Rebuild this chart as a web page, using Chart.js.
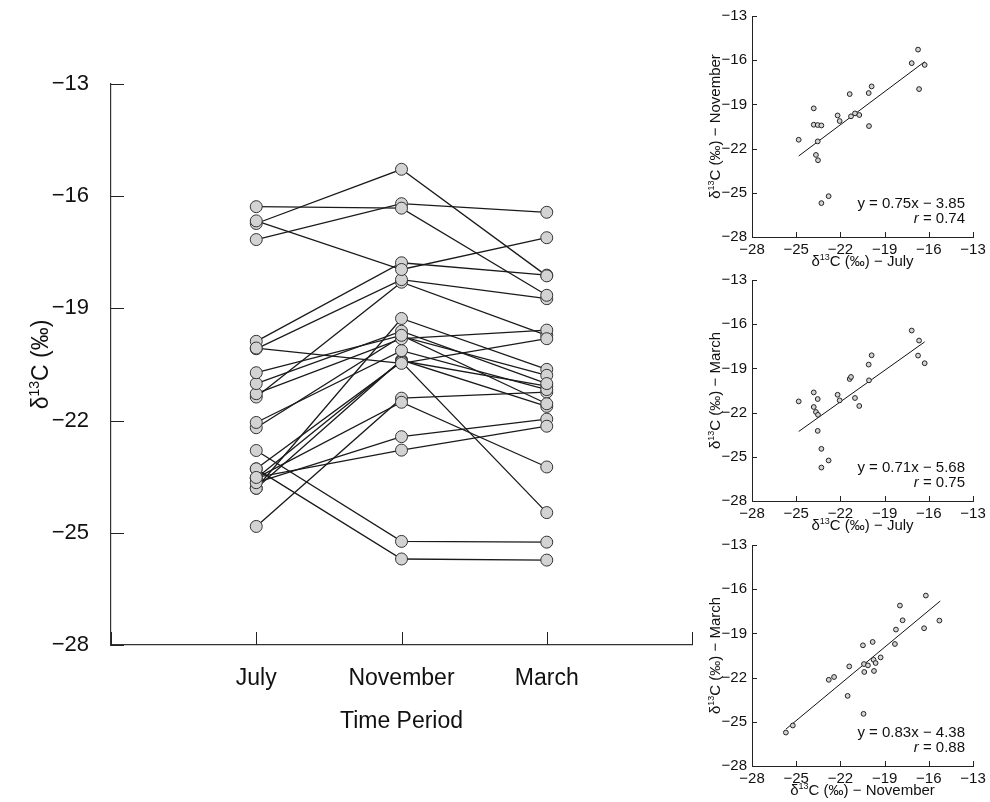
<!DOCTYPE html>
<html lang="en">
<head>
    <meta charset="UTF-8">
    <title>δ13C by time period</title>
    <script src="https://cdn.jsdelivr.net/npm/chart.js"></script>
    <style>
        body { margin: 0; background: #fff; }
        .wrap { position: relative; width: 990px; height: 802px; }
        canvas { position: absolute; }
    </style>
</head>
<body>
    <div class="wrap">
        <canvas id="mainChart" width="712" height="802" style="left:0;top:0"></canvas>
        <canvas id="julNov" width="300" height="272" style="left:690px;top:0"></canvas>
        <canvas id="julMar" width="300" height="272" style="left:690px;top:264px"></canvas>
        <canvas id="novMar" width="300" height="272" style="left:690px;top:529px"></canvas>
    </div>

    <script>
        // values (one entry per individual)
        const periods = ['July', 'November', 'March'];
        const julyVals  = [-24.83, -23.81, -23.81, -23.54, -23.54, -23.29, -23.29, -23.66, -23.52, -22.80, -22.19, -22.05, -21.37, -21.28, -21.01, -20.72, -20.08, -19.88, -20.06, -17.16, -16.73, -16.28, -16.66];
        const novVals   = [-21.40, -19.27, -20.38, -20.40, -21.51, -20.43, -25.70, -22.43, -22.79, -25.23, -19.75, -20.13, -18.30, -19.81, -19.61, -19.72, -18.23, -17.78, -20.47, -16.20, -15.28, -16.32, -17.96];
        const marchVals = [-21.24, -20.63, -21.62, -21.08, -23.24, -24.46, -25.73, -21.96, -22.15, -25.25, -20.79, -21.17, -19.72, -19.58, -21.01, -21.55, -18.74, -18.11, -19.81, -16.43, -18.13, -18.65, -17.11];
        const yTicks = [-28, -25, -22, -19, -16, -13];

        // regression lines as drawn in the small panels
        const fitJulNovX = [-24.83, -16.28];
        const fitJulNovY = [-22.50, -16.10];
        const fitJulMarX = [-24.83, -16.28];
        const fitJulMarY = [-23.28, -17.20];
        const fitNovMarX = [-25.70, -15.22];
        const fitNovMarY = [-25.50, -16.80];
        const eqLabels = ['y = 0.75x − 3.85', 'y = 0.71x − 5.68', 'y = 0.83x − 4.38'];
        const rLabels = ['0.74', '0.75', '0.88'];

        const FONT = "'Liberation Sans', Arial, Helvetica, sans-serif";
        const fmt = v => (v < 0 ? '−' : '') + Math.abs(v);

        // "δ13C (‰)" with a raised 13, centred on 0,0
        function drawDelta(ctx, rest, size) {
            const base = size * 0.36;
            const parts = [
                { t: 'δ', s: size, y: base },
                { t: '13', s: Math.round(size * 0.62), y: base - size * 0.42 },
                { t: 'C (‰)' + rest, s: size, y: base }
            ];
            let w = 0;
            parts.forEach(p => { ctx.font = p.s + 'px ' + FONT; p.w = ctx.measureText(p.t).width; w += p.w; });
            let x = -w / 2;
            ctx.textAlign = 'left';
            ctx.textBaseline = 'alphabetic';
            parts.forEach(p => { ctx.font = p.s + 'px ' + FONT; ctx.fillText(p.t, x, p.y); x += p.w; });
        }

        const decorPlugin = {
            id: 'decor',
            afterDraw(chart, args, opts) {
                const { ctx, chartArea: a, scales } = chart;
                ctx.save();
                ctx.strokeStyle = '#222';
                ctx.lineWidth = 1;
                // tick marks point inward
                scales.x.ticks.forEach(t => {
                    const px = Math.round(scales.x.getPixelForValue(t.value)) + 0.5;
                    ctx.beginPath(); ctx.moveTo(px, a.bottom); ctx.lineTo(px, a.bottom - opts.tickLen); ctx.stroke();
                });
                scales.y.ticks.forEach(t => {
                    const py = Math.round(scales.y.getPixelForValue(t.value)) + 0.5;
                    ctx.beginPath(); ctx.moveTo(a.left, py); ctx.lineTo(a.left + opts.tickLen, py); ctx.stroke();
                });

                ctx.fillStyle = '#111';
                // x title
                ctx.save();
                ctx.translate((a.left + a.right) / 2, a.bottom + opts.xTitleGap);
                if (opts.xDelta) {
                    drawDelta(ctx, opts.xTitle, opts.titleSize);
                } else {
                    ctx.font = opts.titleSize + 'px ' + FONT;
                    ctx.textAlign = 'center';
                    ctx.textBaseline = 'middle';
                    ctx.fillText(opts.xTitle, 0, 0);
                }
                ctx.restore();
                // y title
                ctx.save();
                ctx.translate(opts.yTitleX, (a.top + a.bottom) / 2);
                ctx.rotate(-Math.PI / 2);
                drawDelta(ctx, opts.yTitle, opts.titleSize);
                ctx.restore();

                // regression text
                if (opts.eq) {
                    const rx = a.right - 8;
                    ctx.font = opts.titleSize + 'px ' + FONT;
                    ctx.textAlign = 'right';
                    ctx.textBaseline = 'middle';
                    ctx.fillText(opts.eq, rx, a.top + 188);
                    const rest = ' = ' + opts.r;
                    ctx.fillText(rest, rx, a.top + 203);
                    const rw = ctx.measureText(rest).width;
                    ctx.font = 'italic ' + opts.titleSize + 'px ' + FONT;
                    ctx.fillText('r', rx - rw, a.top + 203);
                }
                ctx.restore();
            }
        };

        // main paired-line chart
        const lineSets = julyVals.map((v, i) => ({
            data: [{ x: 1, y: julyVals[i] }, { x: 2, y: novVals[i] }, { x: 3, y: marchVals[i] }],
            showLine: true,
            borderColor: '#1a1a1a',
            borderWidth: 1.3,
            pointRadius: 0,
            order: 1
        }));
        const pointSets = [julyVals, novVals, marchVals].map((vals, k) => ({
            data: vals.map(v => ({ x: k + 1, y: v })),
            pointRadius: 6,
            pointBackgroundColor: '#d3d3d3',
            pointBorderColor: '#333',
            pointBorderWidth: 1,
            order: 0
        }));

        new Chart(document.getElementById('mainChart'), {
            type: 'scatter',
            data: { datasets: lineSets.concat(pointSets) },
            options: {
                responsive: false,
                animation: false,
                layout: { autoPadding: false, padding: { top: 84, right: 7, left: 0, bottom: 0 } },
                plugins: {
                    legend: { display: false },
                    tooltip: { enabled: false },
                    decor: { tickLen: 13, xTitle: 'Time Period', xDelta: false, xTitleGap: 77, yTitle: '', yTitleX: 40, titleSize: 23 }
                },
                scales: {
                    x: {
                        type: 'linear', min: 0, max: 4,
                        afterBuildTicks: s => { s.ticks = [0, 1, 2, 3, 4].map(v => ({ value: v })); },
                        afterFit: s => { s.height = 157; },
                        ticks: { callback: v => periods[v - 1] || '', autoSkip: false, maxRotation: 0, padding: 20, color: '#111', font: { family: FONT, size: 23 } },
                        grid: { drawOnChartArea: false, drawTicks: false },
                        border: { color: '#333', width: 1.2 }
                    },
                    y: {
                        min: -28, max: -13,
                        afterBuildTicks: s => { s.ticks = yTicks.map(v => ({ value: v })); },
                        afterFit: s => { s.width = 111; },
                        ticks: { callback: fmt, padding: 22, color: '#111', font: { family: FONT, size: 22 } },
                        grid: { drawOnChartArea: false, drawTicks: false },
                        border: { color: '#333', width: 1.2 }
                    }
                }
            },
            plugins: [decorPlugin]
        });

        // small regression panels
        function makeInset(id, xs, ys, fitX, fitY, xName, yName, k) {
            new Chart(document.getElementById(id), {
                type: 'scatter',
                data: {
                    datasets: [
                        {
                            data: fitX.map((x, i) => ({ x: x, y: fitY[i] })),
                            showLine: true, borderColor: '#111', borderWidth: 1, pointRadius: 0, order: 1
                        },
                        {
                            data: xs.map((x, i) => ({ x: x, y: ys[i] })),
                            pointRadius: 2.4, pointBackgroundColor: '#d3d3d3', pointBorderColor: '#222', pointBorderWidth: 1, order: 0
                        }
                    ]
                },
                options: {
                    responsive: false,
                    animation: false,
                    layout: { autoPadding: false, padding: { top: 16, right: 17, left: 0, bottom: 0 } },
                    plugins: {
                        legend: { display: false },
                        tooltip: { enabled: false },
                        decor: { tickLen: 5, xTitle: ' − ' + xName, xDelta: true, xTitleGap: 24, yTitle: ' − ' + yName, yTitleX: 25, titleSize: 15, eq: eqLabels[k], r: rLabels[k] }
                    },
                    scales: {
                        x: {
                            min: -28, max: -13,
                            afterBuildTicks: s => { s.ticks = yTicks.map(v => ({ value: v })); },
                            afterFit: s => { s.height = 35; },
                            ticks: { callback: fmt, autoSkip: false, maxRotation: 0, padding: 4, color: '#111', font: { family: FONT, size: 15 } },
                            grid: { drawOnChartArea: false, drawTicks: false },
                            border: { color: '#222', width: 1 }
                        },
                        y: {
                            min: -28, max: -13,
                            afterBuildTicks: s => { s.ticks = yTicks.map(v => ({ value: v })); },
                            afterFit: s => { s.width = 62; },
                            ticks: { callback: fmt, padding: 5, color: '#111', font: { family: FONT, size: 15 } },
                            grid: { drawOnChartArea: false, drawTicks: false },
                            border: { color: '#222', width: 1 }
                        }
                    }
                },
                plugins: [decorPlugin]
            });
        }

        makeInset('julNov', julyVals, novVals, fitJulNovX, fitJulNovY, 'July', 'November', 0);
        makeInset('julMar', julyVals, marchVals, fitJulMarX, fitJulMarY, 'July', 'March', 1);
        makeInset('novMar', novVals, marchVals, fitNovMarX, fitNovMarY, 'November', 'March', 2);
    </script>
</body>
</html>
